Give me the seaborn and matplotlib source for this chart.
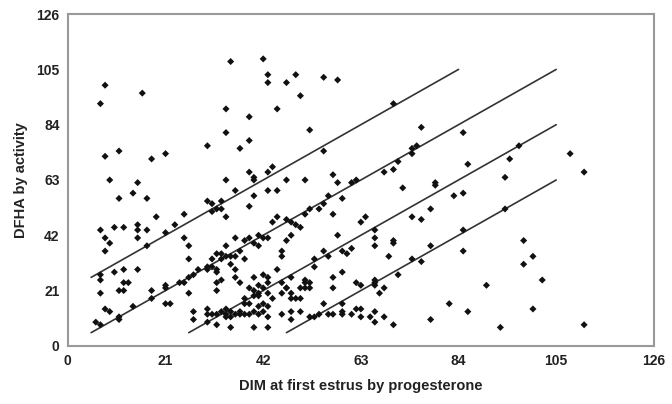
import numpy as np
import pandas as pd
import matplotlib
matplotlib.use("Agg")
import matplotlib.pyplot as plt
import seaborn as sns

# ── Data ──────────────────────────────────────────
dim = [8, 7, 16, 30, 8, 11, 18, 21, 9, 15,
       35, 42, 43, 43, 47, 49, 55, 58, 50, 34, 39, 45, 52, 34, 39, 37, 55,
       39, 40, 40, 43, 44, 34, 47, 51, 57, 58, 61,
       70, 76, 85, 75, 74, 74, 71, 68, 70, 86, 62, 79,
       97, 95, 108, 111, 94,
       11, 14, 17, 30, 7, 8, 9, 8, 10, 12, 15, 15, 15, 17, 19, 17, 21, 23, 25, 25,
       26, 26, 7, 7, 10, 12, 15, 12, 13, 7, 11, 12, 18, 21, 21, 24, 25, 27, 28, 26,
       26, 30, 8, 9, 11, 11, 14, 18, 21, 22, 6, 7, 27, 27, 30, 30, 30,
       33, 36, 40, 43, 45, 39, 31, 32, 33, 31, 34,
       51, 52, 54, 55, 56, 57, 59, 45, 44, 47, 48, 49, 50, 47, 48,
       36, 38, 39, 40, 41, 42, 41, 43, 34, 37, 38, 36, 35, 33, 32, 31, 30, 31, 32,
       32, 33, 34, 35, 36, 46, 46, 45, 53, 53, 55, 56, 58, 59, 60, 61, 57, 57, 59,
       32, 32, 33, 37, 36, 40, 42, 43, 46, 47, 47, 48, 51, 52, 50, 51, 52, 51,
       39, 40, 41, 41, 42, 43, 43, 40, 41, 44, 46, 48, 48, 49, 50, 38, 42, 43, 41,
       39, 38, 37, 36, 35, 34, 34, 33, 32, 31, 34, 35, 37, 38, 39, 40, 41, 42, 43,
       32, 35, 40, 43, 46, 48, 48, 50, 52, 53, 54, 55, 56, 57, 59, 59, 59, 61,
       72, 79, 83, 85, 63, 64, 66, 66, 66, 70, 70, 74, 76, 78, 69, 74, 76, 78, 85,
       85, 71, 62, 63, 66, 66, 66, 68, 67, 62, 63, 63, 65, 66, 66, 68, 70, 78, 82,
       86, 90, 93,
       94, 98, 100, 98, 102, 100, 111]
dfha = [99, 92, 96, 76, 72, 74, 71, 73, 63, 62,
        108, 109, 103, 100, 100, 103, 102, 101, 95, 90, 87, 90, 82, 81, 78, 75, 74,
        66, 64, 63, 66, 68, 63, 63, 63, 65, 62, 62,
        92, 83, 81, 76, 75, 73, 70, 66, 67, 69, 63, 62,
        76, 71, 73, 66, 64,
        56, 58, 56, 55, 44, 41, 39, 36, 45, 45, 46, 44, 41, 44, 49, 38, 43, 46, 50, 41,
        38, 33, 27, 25, 28, 29, 29, 24, 24, 20, 21, 21, 21, 23, 22, 24, 24, 27, 29, 26,
        20, 29, 14, 13, 11, 10, 15, 18, 16, 16, 9, 8, 13, 10, 14, 12, 9,
        55, 59, 57, 59, 59, 53, 54, 52, 52, 51, 49,
        50, 52, 52, 54, 57, 50, 56, 49, 47, 48, 47, 46, 45, 40, 42,
        41, 40, 41, 39, 42, 41, 38, 41, 38, 36, 33, 34, 34, 35, 35, 33, 30, 30, 29,
        28, 33, 34, 31, 29, 36, 34, 29, 30, 33, 36, 34, 42, 36, 35, 37, 26, 22, 28,
        24, 21, 25, 24, 26, 26, 27, 26, 24, 22, 22, 26, 25, 22, 22, 22, 24, 24,
        22, 21, 23, 20, 22, 24, 20, 19, 19, 18, 20, 20, 18, 18, 18, 18, 16, 15, 15,
        16, 16, 13, 12, 13, 14, 12, 13, 12, 12, 11, 11, 12, 12, 12, 13, 12, 13, 11,
        8, 7, 7, 7, 12, 13, 10, 13, 11, 11, 12, 16, 12, 12, 13, 12, 16, 12,
        60, 61, 57, 58, 47, 49, 44, 41, 38, 40, 39, 49, 48, 52, 34, 33, 32, 38, 44,
        36, 27, 24, 23, 25, 24, 23, 22, 20, 14, 14, 11, 11, 13, 9, 11, 8, 10, 16,
        13, 23, 7,
        52, 40, 34, 31, 25, 14, 8]

# reference lines y = x + offset
line_offset = [21, 0, -21, -42]
line_start = [5, 5, 26, 47]
line_end = [84, 105, 105, 105]

ticks = [0, 21, 42, 63, 84, 105, 126]

# ── Plot ───────────────────────────────────────────
sns.set_style("white")
plt.rcParams["font.family"] = ["Liberation Sans", "DejaVu Sans"]

df = pd.DataFrame({"dim": dim, "dfha": dfha})

fig = plt.figure(figsize=(6.72, 4.04), dpi=100)
ax = fig.add_axes([0.101, 0.144, 0.872, 0.821])

for off, x0, x1 in zip(line_offset, line_start, line_end):
    lx = [x0, x1]
    ly = [x0 + off, x1 + off]
    sns.lineplot(x=lx, y=ly, ax=ax, color="#333333", linewidth=1.2)

sns.scatterplot(data=df, x="dim", y="dfha", ax=ax, marker="D", s=13,
                color="#111111", edgecolor="none", zorder=3)

ax.set_xlim(0, 126)
ax.set_ylim(0, 126)
ax.set_xticks(ticks)
ax.set_yticks(ticks)
ax.set_xticklabels([str(t) for t in ticks], fontsize=10, fontweight="bold", color="#222222")
ax.set_yticklabels([str(t) for t in ticks], fontsize=10, fontweight="bold", color="#222222")
ax.tick_params(axis="both", direction="out", length=4, width=1, color="#888888", pad=2)
ax.set_xlabel("DIM at first estrus by progesterone", fontsize=10.5, fontweight="bold",
              color="#222222", labelpad=8)
ax.set_ylabel("DFHA by activity", fontsize=10.5, fontweight="bold", color="#222222",
              labelpad=6)
for sp in ax.spines.values():
    sp.set_color("#999999")
    sp.set_linewidth(1.5)

fig.savefig("out.png", dpi=100)
